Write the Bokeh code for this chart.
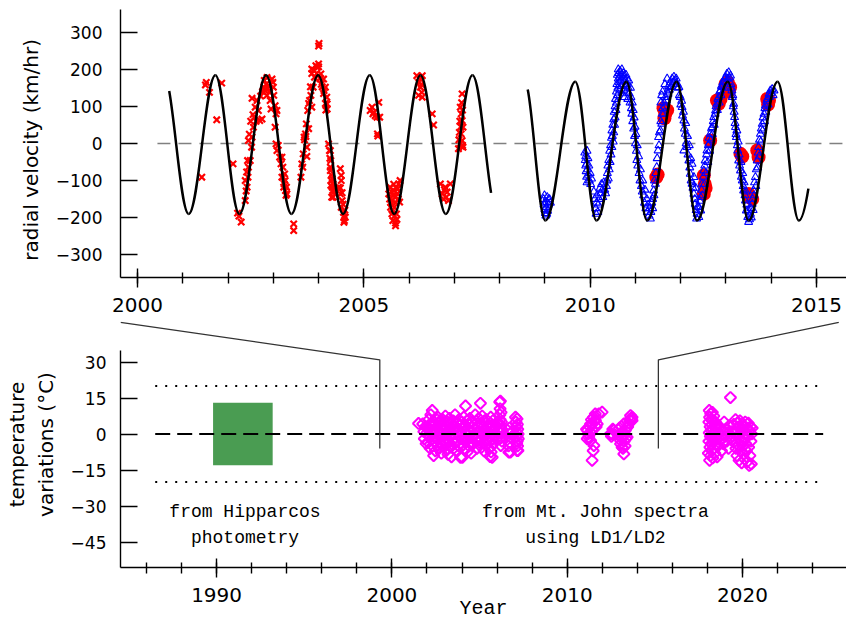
from bokeh.plotting import figure
from bokeh.layouts import column
from bokeh.models import Range1d, FixedTicker
from bokeh.core.properties import value
from bokeh.embed import file_html
from bokeh.resources import INLINE

# ---------------- data: top panel (radial velocity) ----------------
rv_ticks = [-300, -200, -100, 0, 100, 200, 300]
rv_tick_labels = ["\u2212300", "\u2212200", "\u2212100", "0", "100", "200", "300"]
top_year_ticks = [2000, 2005, 2010, 2015]
top_year_minor = list(range(2000, 2016))

orbit1_extrema = [(2000.58, 184), (2001.13, -190), (2001.72, 184), (2002.25, -190), (2002.84, 184),
                  (2003.40, -190), (2003.99, 184), (2004.54, -190), (2005.13, 184), (2005.67, -190),
                  (2006.25, 184), (2006.81, -190), (2007.40, 184), (2007.95, -190)]
orbit1_span = (2000.70, 2007.81)
orbit2_extrema = [(2008.55, 167), (2009.01, -208), (2009.67, 167), (2010.14, -208), (2010.80, 167),
                  (2011.26, -208), (2011.91, 167), (2012.36, -208), (2013.04, 167), (2013.50, -208),
                  (2014.14, 167), (2014.61, -208), (2015.27, 167)]
orbit2_span = (2008.62, 2014.82)
zero_line_years = [2000.44, 2015.7]

red_x = [
    (2001.42, -91), (2001.50, 158), (2001.52, 165), (2001.59, 138), (2001.75, 64), (2001.86, 163),
    (2002.11, -55), (2002.21, -188), (2002.24, -196), (2002.29, -212),
    (2002.38, -154), (2002.38, -100), (2002.40, -128), (2002.41, -77), (2002.42, -118), (2002.43, -46),
    (2002.44, -91), (2002.45, -64), (2002.45, 8), (2002.47, 25), (2002.49, -46), (2002.50, 60),
    (2002.52, -10), (2002.53, 17), (2002.53, 122), (2002.55, 78), (2002.56, 44), (2002.58, 71),
    (2002.60, 98), (2002.62, 60), (2002.64, 116), (2002.67, 89), (2002.70, 62), (2002.75, 66),
    (2002.72, 128), (2002.76, 140), (2002.79, 152), (2002.80, 170), (2002.82, 143), (2002.84, 160),
    (2002.86, 130), (2002.86, 178), (2002.88, 148), (2002.90, 156), (2002.92, 138), (2002.93, 116),
    (2002.95, 93), (2002.97, 174), (2002.99, 165), (2003.00, 152), (2003.01, 130), (2003.04, 102),
    (2003.06, 80), (2003.08, 89),
    (2003.04, 44), (2003.06, -1), (2003.08, -19), (2003.11, -5), (2003.14, -37), (2003.17, -55),
    (2003.19, -91), (2003.19, -37), (2003.21, -64), (2003.22, -91), (2003.23, -118), (2003.24, -109),
    (2003.25, -82), (2003.26, -100), (2003.27, -127), (2003.28, -140), (2003.29, -118), (2003.30, -136),
    (2003.45, -217), (2003.45, -235),
    (2003.61, -91), (2003.63, -55), (2003.65, -64), (2003.66, -28), (2003.68, 17), (2003.69, 10),
    (2003.71, 26), (2003.72, 19), (2003.74, -10), (2003.74, -35), (2003.73, 53), (2003.76, 89),
    (2003.78, 40), (2003.78, 108), (2003.80, 116), (2003.82, 153), (2003.83, 130), (2003.85, 98),
    (2003.85, 189), (2003.85, 201), (2003.88, 152), (2003.89, 198), (2003.91, 179), (2003.94, 210),
    (2003.96, 189), (2003.97, 206), (2004.00, 207), (2004.00, 215), (2004.00, 263), (2004.01, 270),
    (2004.03, 175), (2004.05, 188), (2004.06, 160), (2004.08, 153), (2004.11, 174), (2004.11, 135),
    (2004.12, 143), (2004.15, 152), (2004.15, 108), (2004.16, 90), (2004.18, 125), (2004.19, 107),
    (2004.19, 93),
    (2004.22, -1), (2004.24, -19), (2004.25, -40), (2004.26, -19), (2004.26, -64), (2004.27, -46),
    (2004.26, -73), (2004.28, -85), (2004.27, -113), (2004.28, -100), (2004.30, -95), (2004.29, -145),
    (2004.30, -118), (2004.31, -127), (2004.32, -110), (2004.33, -132), (2004.32, -145),
    (2004.44, -118), (2004.48, -68), (2004.50, -86), (2004.48, -120), (2004.48, -136), (2004.50, -100),
    (2004.52, -133), (2004.52, -154), (2004.50, -172), (2004.54, -164), (2004.55, -186), (2004.56, -199),
    (2004.57, -208), (2004.56, -213), (2004.59, -199), (2004.58, -180),
    (2005.14, 89), (2005.18, 98), (2005.20, 80), (2005.22, 84), (2005.25, 75), (2005.29, 71),
    (2005.30, 26), (2005.31, 20), (2005.33, 111), (2005.35, 71),
    (2005.55, -136), (2005.57, -150), (2005.58, -118), (2005.59, -172), (2005.60, -160), (2005.61, -130),
    (2005.62, -154), (2005.62, -190), (2005.63, -180), (2005.64, -208), (2005.65, -140), (2005.66, -127),
    (2005.66, -110), (2005.67, -172), (2005.68, -195), (2005.69, -145), (2005.70, -215), (2005.70, -160),
    (2005.70, -222), (2005.71, -120), (2005.72, -190), (2005.73, -205), (2005.74, -135), (2005.75, -122),
    (2005.76, -150), (2005.77, -109), (2005.79, -158), (2005.80, -100),
    (2006.17, 183), (2006.21, 165), (2006.21, 130), (2006.25, 152), (2006.25, 174), (2006.27, 160),
    (2006.28, 138), (2006.29, 125), (2006.29, 183),
    (2006.51, 80), (2006.54, 50),
    (2006.69, -109), (2006.73, -136), (2006.76, -150), (2006.78, -125), (2006.80, -118), (2006.82, -145),
    (2006.84, -131), (2006.87, -154), (2006.91, -109),
    (2007.09, -14), (2007.10, 10), (2007.11, 30), (2007.12, 60), (2007.13, 98), (2007.13, 0),
    (2007.14, 45), (2007.15, 80), (2007.15, 26), (2007.16, 110), (2007.16, -8), (2007.17, 134),
    (2007.17, 62), (2007.17, 8), (2007.18, -5), (2007.18, 90), (2007.19, 44), (2007.19, -10),
]

blue_2009 = [
    (2008.97, -150), (2008.98, -165), (2008.99, -140), (2009.00, -178), (2009.01, -188), (2009.02, -195),
    (2009.03, -172), (2009.04, -158), (2009.05, -145), (2009.06, -182), (2009.08, -165), (2009.10, -150),
    (2009.12, -160), (2009.00, -160), (2009.04, -190),
]
blue_2010a = [
    (2009.88, -25), (2009.89, -45), (2009.90, -60), (2009.90, -35), (2009.91, -75), (2009.92, -90),
    (2009.92, -55), (2009.93, -20), (2009.93, -105), (2009.94, -70), (2009.95, -40), (2009.96, -85),
    (2009.97, -60), (2009.98, -100), (2010.00, -80), (2010.01, -110), (2010.03, -95),
    (2010.08, -130), (2010.10, -150), (2010.12, -175), (2010.13, -190), (2010.14, -160), (2010.15, -140),
    (2010.17, -185), (2010.18, -165), (2010.20, -150), (2010.22, -120), (2010.23, -135), (2010.25, -110),
    (2010.27, -125), (2010.28, -145), (2010.30, -105), (2010.32, -125), (2010.34, -135), (2010.36, -115),
]
blue_2010b = [
    (2010.37, -100), (2010.38, -80), (2010.39, -60), (2010.40, -95), (2010.41, -45), (2010.42, -70),
    (2010.43, -20), (2010.44, -50), (2010.45, -5), (2010.46, -30), (2010.47, 15), (2010.48, -10),
    (2010.48, 35), (2010.49, 20), (2010.50, 50), (2010.51, 5), (2010.52, 65), (2010.52, 30),
    (2010.53, 85), (2010.54, 50), (2010.55, 100), (2010.55, 70), (2010.56, 120), (2010.57, 90),
    (2010.58, 140), (2010.58, 110), (2010.59, 160), (2010.60, 130), (2010.60, 185), (2010.61, 150),
    (2010.62, 175), (2010.62, 200),
    (2010.63, 190), (2010.64, 165), (2010.65, 180), (2010.65, 145), (2010.66, 195), (2010.67, 170),
    (2010.68, 155), (2010.69, 185), (2010.70, 200), (2010.70, 135), (2010.71, 175), (2010.72, 160),
    (2010.73, 190), (2010.74, 145), (2010.75, 180), (2010.76, 125), (2010.77, 170), (2010.78, 155),
    (2010.79, 185), (2010.80, 140), (2010.81, 175), (2010.82, 160), (2010.83, 120), (2010.84, 150),
    (2010.85, 170), (2010.86, 135), (2010.88, 110), (2010.89, 150), (2010.90, 125), (2010.91, 95),
    (2010.92, 80), (2010.93, 110), (2010.94, 60), (2010.95, 90), (2010.96, 40), (2010.97, 70),
    (2010.98, 20), (2010.99, 45), (2011.00, 0), (2011.01, 25), (2011.02, -20), (2011.03, -45),
    (2011.04, -5), (2011.05, -60), (2011.07, -35), (2011.08, -80), (2011.10, -100), (2011.11, -70),
    (2011.13, -115), (2011.15, -130), (2011.16, -100), (2011.18, -140), (2011.20, -160), (2011.21, -125),
    (2011.23, -175), (2011.25, -150), (2011.26, -185), (2011.28, -165), (2011.30, -195), (2011.31, -175),
    (2011.33, -203), (2011.34, -185), (2011.36, -160), (2011.38, -175),
]
blue_2011 = [
    (2011.38, -150), (2011.40, -127), (2011.41, -140), (2011.42, -100), (2011.44, -109), (2011.45, -80),
    (2011.47, -64), (2011.48, -40), (2011.50, -19), (2011.51, 17), (2011.52, -5), (2011.53, 30),
    (2011.55, 35), (2011.56, 60), (2011.56, 110), (2011.58, 53), (2011.58, 130), (2011.59, 80),
    (2011.60, 95), (2011.60, 140), (2011.62, 80), (2011.63, 110), (2011.65, 100), (2011.65, 160),
    (2011.66, 125), (2011.68, 116), (2011.70, 140), (2011.70, 175), (2011.72, 134), (2011.73, 155),
    (2011.75, 145), (2011.77, 165), (2011.79, 152), (2011.81, 175), (2011.83, 165), (2011.85, 180),
    (2011.87, 170), (2011.89, 160), (2011.90, 175), (2011.92, 161), (2011.94, 150),
    (2011.96, 152), (2011.97, 130), (2011.99, 125), (2012.00, 105), (2012.02, 115), (2012.03, 98),
    (2012.04, 75), (2012.06, 85), (2012.07, 62), (2012.07, -19), (2012.08, 40), (2012.10, 26),
    (2012.11, 55), (2012.12, 0), (2012.14, -10), (2012.15, 20), (2012.16, -30), (2012.18, -46),
    (2012.19, -5), (2012.20, -65), (2012.21, -82), (2012.22, -40), (2012.23, -100), (2012.25, -109),
    (2012.25, -55), (2012.27, -120), (2012.29, -136), (2012.29, -91), (2012.31, -150), (2012.32, -163),
    (2012.33, -120), (2012.34, -180), (2012.36, -190), (2012.35, -203), (2012.38, -170), (2012.40, -172),
    (2012.40, -199), (2012.42, -155), (2012.44, -181), (2012.44, -145),
]
blue_2012 = [
    (2012.46, -125), (2012.47, -109), (2012.48, -140), (2012.50, -90), (2012.51, -73), (2012.52, -110),
    (2012.53, -60), (2012.54, -46), (2012.56, -80), (2012.57, -30), (2012.58, -19), (2012.60, -50),
    (2012.61, -5), (2012.62, -1), (2012.63, 15), (2012.64, -20), (2012.65, 26), (2012.67, 10),
    (2012.68, 40), (2012.69, 44), (2012.70, 25), (2012.72, 60), (2012.73, 71), (2012.74, 50),
    (2012.76, 80), (2012.77, 89), (2012.78, 100), (2012.80, 107), (2012.81, 90), (2012.82, 120),
    (2012.84, 125), (2012.85, 110), (2012.86, 140), (2012.88, 143), (2012.89, 130), (2012.90, 155),
    (2012.91, 152), (2012.93, 165), (2012.95, 165), (2012.96, 150), (2012.97, 175), (2012.99, 179),
    (2013.00, 165), (2013.02, 188), (2013.04, 175), (2013.06, 192), (2013.08, 178), (2013.10, 183),
    (2013.11, 160),
    (2013.12, 150), (2013.13, 143), (2013.14, 125), (2013.15, 130), (2013.16, 100), (2013.17, 107),
    (2013.18, 85), (2013.19, 71), (2013.20, 55), (2013.21, 44), (2013.22, 25), (2013.23, 17),
    (2013.24, 35), (2013.25, -5), (2013.26, -19), (2013.27, 5), (2013.28, -46), (2013.29, -30),
    (2013.30, -60), (2013.32, -73), (2013.33, -50), (2013.34, -90), (2013.36, -100), (2013.37, -80),
    (2013.38, -115), (2013.39, -127), (2013.40, -105), (2013.42, -140), (2013.43, -154), (2013.44, -130),
    (2013.45, -181), (2013.46, -165), (2013.48, -199), (2013.49, -180), (2013.50, -212), (2013.51, -195),
    (2013.52, -205),
]
blue_2013 = [
    (2013.54, -190), (2013.55, -175), (2013.56, -200), (2013.58, -163), (2013.59, -150), (2013.60, -180),
    (2013.61, -127), (2013.62, -140), (2013.63, -105), (2013.65, -91), (2013.66, -115), (2013.67, -70),
    (2013.69, -46), (2013.70, -65), (2013.71, -25), (2013.72, -10), (2013.73, -35), (2013.74, 10),
    (2013.76, 26), (2013.77, 5), (2013.78, 40), (2013.80, 53), (2013.81, 35), (2013.82, 70),
    (2013.84, 80), (2013.85, 60), (2013.86, 95), (2013.87, 102), (2013.88, 85), (2013.90, 115),
    (2013.91, 120), (2013.93, 105), (2013.95, 134), (2013.96, 125), (2013.98, 143), (2014.00, 135),
    (2014.02, 147), (2014.04, 130), (2014.06, 143),
]
red_dots = [
    (2011.46, -91), (2011.49, -84), (2011.62, 95), (2011.66, 80), (2011.70, 90), (2011.64, 68),
    (2012.51, -86), (2012.53, -109), (2012.51, -136), (2012.55, -120),
    (2012.65, 8),
    (2012.80, 116), (2012.84, 107), (2012.88, 120),
    (2012.99, 161), (2013.04, 165), (2013.09, 152), (2013.06, 140),
    (2013.32, -28), (2013.36, -35),
    (2013.50, -136), (2013.54, -145), (2013.58, -150),
    (2013.69, -19), (2013.72, -37),
    (2013.91, 120), (2013.95, 116), (2013.93, 105),
]

# ---------------- data: bottom panel (temperature variations) ----------------
temp_ticks = [-45, -30, -15, 0, 15, 30]
temp_tick_labels = ["\u221245", "\u221230", "\u221215", "0", "15", "30"]
year_ticks = [1990, 2000, 2010, 2020]
year_minor = list(range(1986, 2026, 2))
hipparcos_box = dict(left=[1989.8], right=[1993.2], bottom=[-13.0], top=[13.0])
limit_levels = [20, -20]
ref_line_years = [1986.5, 2024.6]
# zoom connectors: (year, degC) corners linking the upper time axis to the lower one
zoom_left = [(1984.52, 46.5), (1999.31, 30.9), (1999.31, -6.0)]
zoom_right = [(2025.49, 46.5), (2015.20, 30.9), (2015.20, -6.0)]

temp_pts = [
    (2001.52, 4.4), (2001.76, 4.2), (2001.82, 1.0), (2001.85, -2.0), (2001.90, 3.0), (2001.95, -4.0), (2002.00, 0.5),
    (2002.05, 2.5), (2002.08, -3.5), (2002.10, 6.0), (2002.12, -1.0), (2002.15, 4.0), (2002.18, -6.0),
    (2002.20, 1.5), (2002.22, 8.0), (2002.25, -2.5), (2002.28, 3.5), (2002.30, 9.8), (2002.32, -5.0),
    (2002.35, 0.0), (2002.38, -9.0), (2002.40, 5.0), (2002.42, -3.0), (2002.45, 2.0), (2002.48, -7.0),
    (2002.50, 6.5), (2002.52, -1.5), (2002.55, 3.0), (2002.58, -4.5), (2002.60, 1.0), (2002.62, 7.0),
    (2002.65, -2.0), (2002.68, 4.5), (2002.70, -6.0), (2002.72, 0.5), (2002.75, 5.5), (2002.78, -3.5),
    (2002.80, 2.0), (2002.82, -8.0), (2002.85, 3.5), (2002.88, -1.0), (2002.90, 6.0), (2002.92, -5.0),
    (2002.95, 1.5), (2002.98, -2.5),
    (2003.00, 4.0), (2003.03, -4.0), (2003.05, 7.5), (2003.08, 0.0), (2003.10, -6.5), (2003.12, 3.0),
    (2003.15, -2.0), (2003.18, 5.0), (2003.20, -8.5), (2003.22, 1.0), (2003.25, -3.5), (2003.28, 6.5),
    (2003.30, -1.0), (2003.32, 2.5), (2003.35, -5.5), (2003.38, 4.0), (2003.40, -9.5), (2003.42, 0.5),
    (2003.45, 3.5), (2003.48, -2.5), (2003.50, 5.5), (2003.52, -6.0), (2003.55, 1.5), (2003.58, -4.0),
    (2003.60, 8.0), (2003.62, -1.5), (2003.65, 3.0), (2003.68, -7.0), (2003.70, 0.5), (2003.72, 4.5),
    (2003.75, -3.0), (2003.78, 2.0), (2003.80, -5.0), (2003.82, 6.0), (2003.85, -1.0), (2003.88, 3.5),
    (2003.91, -9.7), (2003.94, 1.0), (2003.97, -2.0),
    (2004.00, 5.0), (2004.02, -9.7), (2004.05, -4.5), (2004.08, 2.5), (2004.10, 7.0), (2004.12, -1.5),
    (2004.15, 3.5), (2004.18, -6.5), (2004.20, 11.7), (2004.22, 0.0), (2004.25, -3.0), (2004.28, 5.5),
    (2004.30, -7.5), (2004.32, 2.0), (2004.35, -2.0), (2004.38, 4.0), (2004.40, -5.0), (2004.42, 1.0),
    (2004.45, 6.5), (2004.48, -3.5), (2004.50, 0.5), (2004.52, -8.0), (2004.55, 3.0), (2004.58, -1.0),
    (2004.60, 5.0), (2004.65, -4.0), (2004.70, 2.0), (2004.75, 8.0), (2004.78, -2.5), (2004.82, 0.5),
    (2004.85, -6.0), (2004.88, 3.5), (2004.92, -1.5), (2004.95, 6.5), (2004.98, -3.5),
    (2005.02, 1.0), (2005.05, 12.8), (2005.08, -2.0), (2005.10, 4.5), (2005.12, -5.5), (2005.15, 7.5),
    (2005.18, 0.0), (2005.20, -3.5), (2005.22, 3.0), (2005.25, -7.0), (2005.28, 5.5), (2005.30, -1.0),
    (2005.32, 2.0), (2005.35, -4.5), (2005.38, 6.0), (2005.40, 0.5), (2005.42, -2.5), (2005.45, 3.5),
    (2005.55, -6.0), (2005.58, 2.0), (2005.60, -9.4), (2005.62, 4.5), (2005.62, -3.0), (2005.64, 7.0),
    (2005.65, 0.0), (2005.66, -7.5), (2005.68, 3.0), (2005.70, -5.0), (2005.72, -9.7), (2005.74, 1.5),
    (2005.76, 5.5), (2005.78, -2.0), (2005.80, -4.0), (2005.85, 2.5), (2005.90, -1.0), (2005.95, 3.5),
    (2006.10, 1.0), (2006.12, 4.5), (2006.14, -2.0), (2006.15, 13.3), (2006.16, 8.0), (2006.17, 10.5),
    (2006.18, 6.0), (2006.19, 13.7), (2006.20, 3.0), (2006.21, -4.8), (2006.22, 0.5), (2006.23, 9.0),
    (2006.24, -1.5), (2006.25, 5.0), (2006.27, 2.0), (2006.28, -3.0),
    (2006.55, -2.5), (2006.60, 1.5), (2006.65, -5.0), (2006.67, -7.6), (2006.70, 2.5), (2006.72, -3.5),
    (2006.75, 0.0), (2006.76, -7.6), (2006.80, -1.5), (2006.85, 1.0),
    (2007.05, 7.0), (2007.08, 5.0), (2007.10, 3.0), (2007.12, 1.0), (2007.14, -1.0), (2007.14, 6.3),
    (2007.15, -3.0), (2007.16, 4.0), (2007.17, -5.0), (2007.18, 2.0), (2007.19, -6.9), (2007.20, 0.0),
    (2007.21, -2.0), (2007.14, -6.9), (2007.12, -4.0),
    (2011.10, 2.0), (2011.14, -2.0), (2011.15, 1.5), (2011.20, 0.0), (2011.23, -1.3), (2011.28, 3.0),
    (2011.33, -2.7), (2011.33, 4.2), (2011.36, 0.5), (2011.38, 6.0), (2011.42, 4.2), (2011.42, -11.0),
    (2011.45, 2.0), (2011.48, -7.0), (2011.50, 7.0), (2011.52, -4.8), (2011.55, 5.5), (2011.60, 8.4),
    (2011.61, 5.6), (2011.65, 3.0), (2011.71, 4.2), (2011.80, 8.4), (2011.99, 9.1),
    (2012.47, 0.1), (2012.52, -1.0), (2012.56, 0.0), (2012.60, 2.0), (2012.66, 1.5), (2012.94, -0.6),
    (2012.98, 2.5), (2013.04, -2.7), (2013.04, -4.1), (2013.08, 0.5), (2013.10, 3.0), (2013.13, -5.5),
    (2013.15, -1.5), (2013.18, 1.0), (2013.18, -6.0), (2013.23, 4.2), (2013.23, -8.3), (2013.25, -3.0),
    (2013.28, 0.0), (2013.30, -5.0), (2013.32, 1.5), (2013.35, -2.0), (2013.38, 2.5), (2013.42, -1.3),
    (2013.45, 3.0), (2013.50, 4.5), (2013.55, 6.0), (2013.61, 7.7), (2013.61, 5.6), (2013.65, 6.5),
    (2013.70, 5.6), (2013.70, 7.0),
    (2018.05, -8.0), (2018.08, 5.0), (2018.08, -3.0), (2018.10, 9.8), (2018.10, 0.5), (2018.12, -11.0),
    (2018.12, 7.0), (2018.14, -5.5), (2018.15, 3.0), (2018.16, -1.0), (2018.18, 8.5), (2018.18, -9.0),
    (2018.20, 1.5), (2018.22, -4.0), (2018.22, 6.0), (2018.24, -7.0), (2018.25, 4.0), (2018.26, -2.0),
    (2018.28, 9.0), (2018.28, 0.0), (2018.30, -10.0), (2018.30, 5.5), (2018.32, -3.5), (2018.33, 2.0),
    (2018.35, -6.0), (2018.36, 7.5), (2018.38, -1.5), (2018.40, 3.5), (2018.42, -8.0), (2018.44, 1.0),
    (2018.45, 5.0), (2018.48, -4.5), (2018.50, 2.5), (2018.52, -2.0), (2018.55, -9.5), (2018.55, 4.0),
    (2018.60, -5.0), (2018.65, 0.0), (2018.70, 3.0), (2018.75, -2.5), (2018.80, -7.0), (2018.85, 1.5),
    (2018.90, -4.0), (2018.95, 5.0), (2019.00, -1.0), (2019.05, 2.0), (2019.10, -3.0), (2019.15, 0.5),
    (2019.20, -6.0), (2019.25, 3.5), (2019.31, 15.2), (2019.35, -1.5), (2019.40, 1.0),
    (2019.50, 4.0), (2019.55, -3.0), (2019.58, 0.5), (2019.60, 6.0), (2019.62, -6.0), (2019.65, 2.0),
    (2019.68, -9.0), (2019.70, 4.5), (2019.72, -1.5), (2019.75, -4.5), (2019.78, 3.0), (2019.80, -11.0),
    (2019.82, 0.0), (2019.85, 5.5), (2019.88, -7.0), (2019.90, 2.0), (2019.92, -2.5), (2019.95, -12.0),
    (2019.98, 4.0), (2020.00, -5.0), (2020.02, 1.0), (2020.05, -8.5), (2020.08, 3.5), (2020.10, -2.0),
    (2020.12, -10.5), (2020.15, 5.0), (2020.18, -4.0), (2020.20, 0.5), (2020.22, -7.0), (2020.25, 2.5),
    (2020.28, -11.5), (2020.30, -1.0), (2020.33, 4.5), (2020.35, -5.5), (2020.38, -13.1), (2020.40, 1.5),
    (2020.42, -9.0), (2020.45, 3.0), (2020.48, -3.0), (2020.50, -12.5), (2020.52, 0.0), (2020.55, 2.5),
]

labels_left = ["from Hipparcos", "photometry"]
labels_right = ["from Mt. John spectra", "using LD1/LD2"]


def xs(pts):
    return [p[0] for p in pts]


def ys(pts):
    return [p[1] for p in pts]


# ---- smooth orbit curve: cubic Bezier half-waves between extrema ----
K = 0.3634


def _lerp(a, b, u):
    return (a[0] + (b[0] - a[0]) * u, a[1] + (b[1] - a[1]) * u)


def _split(P, u):
    p01, p12, p23 = _lerp(P[0], P[1], u), _lerp(P[1], P[2], u), _lerp(P[2], P[3], u)
    p012, p123 = _lerp(p01, p12, u), _lerp(p12, p23, u)
    m = _lerp(p012, p123, u)
    return [P[0], p01, p012, m], [m, p123, p23, P[3]]


def _u_at(P, x):
    lo, hi = 0.0, 1.0
    for _ in range(60):
        u = 0.5 * (lo + hi)
        xu = ((1 - u) ** 3 * P[0][0] + 3 * (1 - u) ** 2 * u * P[1][0]
              + 3 * (1 - u) * u ** 2 * P[2][0] + u ** 3 * P[3][0])
        if xu < x:
            lo = u
        else:
            hi = u
    return 0.5 * (lo + hi)


def bezier_columns(extrema, span):
    cols = dict(x0=[], y0=[], x1=[], y1=[], cx0=[], cy0=[], cx1=[], cy1=[])
    a, b = span
    for (t0, v0), (t1, v1) in zip(extrema[:-1], extrema[1:]):
        if t1 <= a or t0 >= b:
            continue
        h = t1 - t0
        P = [(t0, v0), (t0 + K * h, v0), (t1 - K * h, v1), (t1, v1)]
        if t0 < a:
            P = _split(P, _u_at(P, a))[1]
        if t1 > b:
            P = _split(P, _u_at(P, b))[0]
        cols["x0"].append(P[0][0]); cols["y0"].append(P[0][1])
        cols["cx0"].append(P[1][0]); cols["cy0"].append(P[1][1])
        cols["cx1"].append(P[2][0]); cols["cy1"].append(P[2][1])
        cols["x1"].append(P[3][0]); cols["y1"].append(P[3][1])
    return cols


TICK_FONT = "DejaVu Sans"
MONO = "Liberation Mono"


def style_axes(p):
    p.outline_line_color = None
    p.grid.visible = False
    p.background_fill_color = "white"
    p.border_fill_color = "white"
    for ax in (p.xaxis[0], p.yaxis[0]):
        ax.axis_line_color = "black"
        ax.axis_line_width = 1.4
        ax.major_tick_line_color = "black"
        ax.major_tick_line_width = 1.4
        ax.minor_tick_line_color = "black"
        ax.minor_tick_line_width = 1.4
        ax.major_label_text_font = TICK_FONT
        ax.major_label_text_color = "black"
        ax.axis_label_text_font = TICK_FONT
        ax.axis_label_text_font_style = "normal"
        ax.axis_label_text_color = "black"
    p.xaxis.major_tick_in = 9
    p.xaxis.major_tick_out = 10
    p.xaxis.minor_tick_in = 5
    p.xaxis.minor_tick_out = 6
    p.xaxis.major_label_text_font_size = "20px"
    p.yaxis.major_tick_in = 17
    p.yaxis.major_tick_out = 0
    p.yaxis.minor_tick_in = 0
    p.yaxis.minor_tick_out = 0
    p.yaxis.major_label_text_font_size = "17px"


# ================= top panel =================
top = figure(frame_width=726, frame_height=268,
             x_range=Range1d(1999.624, 2015.662), y_range=Range1d(-361.7, 361.7),
             output_backend="svg", toolbar_location=None,
             min_border_left=120, min_border_right=0, min_border_top=9, min_border_bottom=44)
style_axes(top)
top.xaxis.ticker = FixedTicker(ticks=top_year_ticks, minor_ticks=top_year_minor)
top.xaxis.major_label_standoff = 10
top.yaxis.ticker = FixedTicker(ticks=rv_ticks, minor_ticks=[])
top.yaxis.major_label_overrides = {t: s for t, s in zip(rv_ticks, rv_tick_labels)}
top.yaxis.major_label_standoff = 18
top.yaxis.axis_label = "radial  velocity  (km/hr)"
top.yaxis.axis_label_text_font_size = "20px"
top.yaxis.axis_label_standoff = 10

top.line(zero_line_years, [0, 0], line_color="#808080", line_width=1.5, line_dash="13 8")
top.scatter(xs(red_x), ys(red_x), marker="x", size=9, line_color="#ff0000", line_width=2.2)
top.scatter(xs(red_dots), ys(red_dots), marker="circle", size=14, fill_color="#ff0000", line_color=None)
blue_all = blue_2009 + blue_2010a + blue_2010b + blue_2011 + blue_2012 + blue_2013
top.scatter(xs(blue_all), ys(blue_all), marker="triangle", size=8, fill_color=None,
            line_color="#0000ff", line_width=1.1)
for ext, span in ((orbit1_extrema, orbit1_span), (orbit2_extrema, orbit2_span)):
    c = bezier_columns(ext, span)
    top.bezier(x0=c["x0"], y0=c["y0"], x1=c["x1"], y1=c["y1"], cx0=c["cx0"], cy0=c["cy0"],
               cx1=c["cx1"], cy1=c["cy1"], line_color="black", line_width=2.5)

# ================= bottom panel =================
bot = figure(frame_width=726, frame_height=246,
             x_range=Range1d(1984.52, 2025.93), y_range=Range1d(-55.625, 46.875),
             output_backend="svg", toolbar_location=None,
             min_border_left=120, min_border_right=0, min_border_top=0, min_border_bottom=54)
style_axes(bot)
bot.xaxis.ticker = FixedTicker(ticks=year_ticks, minor_ticks=year_minor)
bot.xaxis.major_label_standoff = 10
bot.xaxis.axis_label = "Year"
bot.xaxis.axis_label_text_font = MONO
bot.xaxis.axis_label_text_font_size = "20px"
bot.xaxis.axis_label_standoff = -8
bot.yaxis.ticker = FixedTicker(ticks=temp_ticks, minor_ticks=[])
bot.yaxis.major_label_overrides = {t: s for t, s in zip(temp_ticks, temp_tick_labels)}
bot.yaxis.major_label_standoff = 14
bot.yaxis.bounds = (-55.625, 34.8)
bot.yaxis.axis_label = "temperature\nvariations (\u00b0C)"
bot.yaxis.axis_label_text_font_size = "20px"
bot.yaxis.axis_label_standoff = 10

for lv in limit_levels:
    bot.line(ref_line_years, [lv, lv], line_color="black", line_width=2, line_dash="2 8")
bot.quad(left=hipparcos_box["left"], right=hipparcos_box["right"], bottom=hipparcos_box["bottom"],
         top=hipparcos_box["top"], fill_color="#4a9c52", line_color=None)
bot.scatter(xs(temp_pts), ys(temp_pts), marker="square", angle=0.785398, size=8, fill_color=None,
            line_color="#ff00ff", line_width=2.0)
bot.line(ref_line_years, [0, 0], line_color="black", line_width=2, line_dash="15 7")
for zl in (zoom_left, zoom_right):
    bot.line(xs(zl), ys(zl), line_color="#333333", line_width=1.3)

bot.text(x=[1991.62, 1991.62], y=[-32.7, -43.5], text=labels_left, text_font=value(MONO),
         text_font_size="18px", text_align="center", text_baseline="middle", text_color="black")
bot.text(x=[2011.61, 2011.61], y=[-32.7, -43.5], text=labels_right, text_font=value(MONO),
         text_font_size="18px", text_align="center", text_baseline="middle", text_color="black")

layout = column(top, bot, spacing=0)
open("out.html", "w").write(file_html(layout, INLINE))
